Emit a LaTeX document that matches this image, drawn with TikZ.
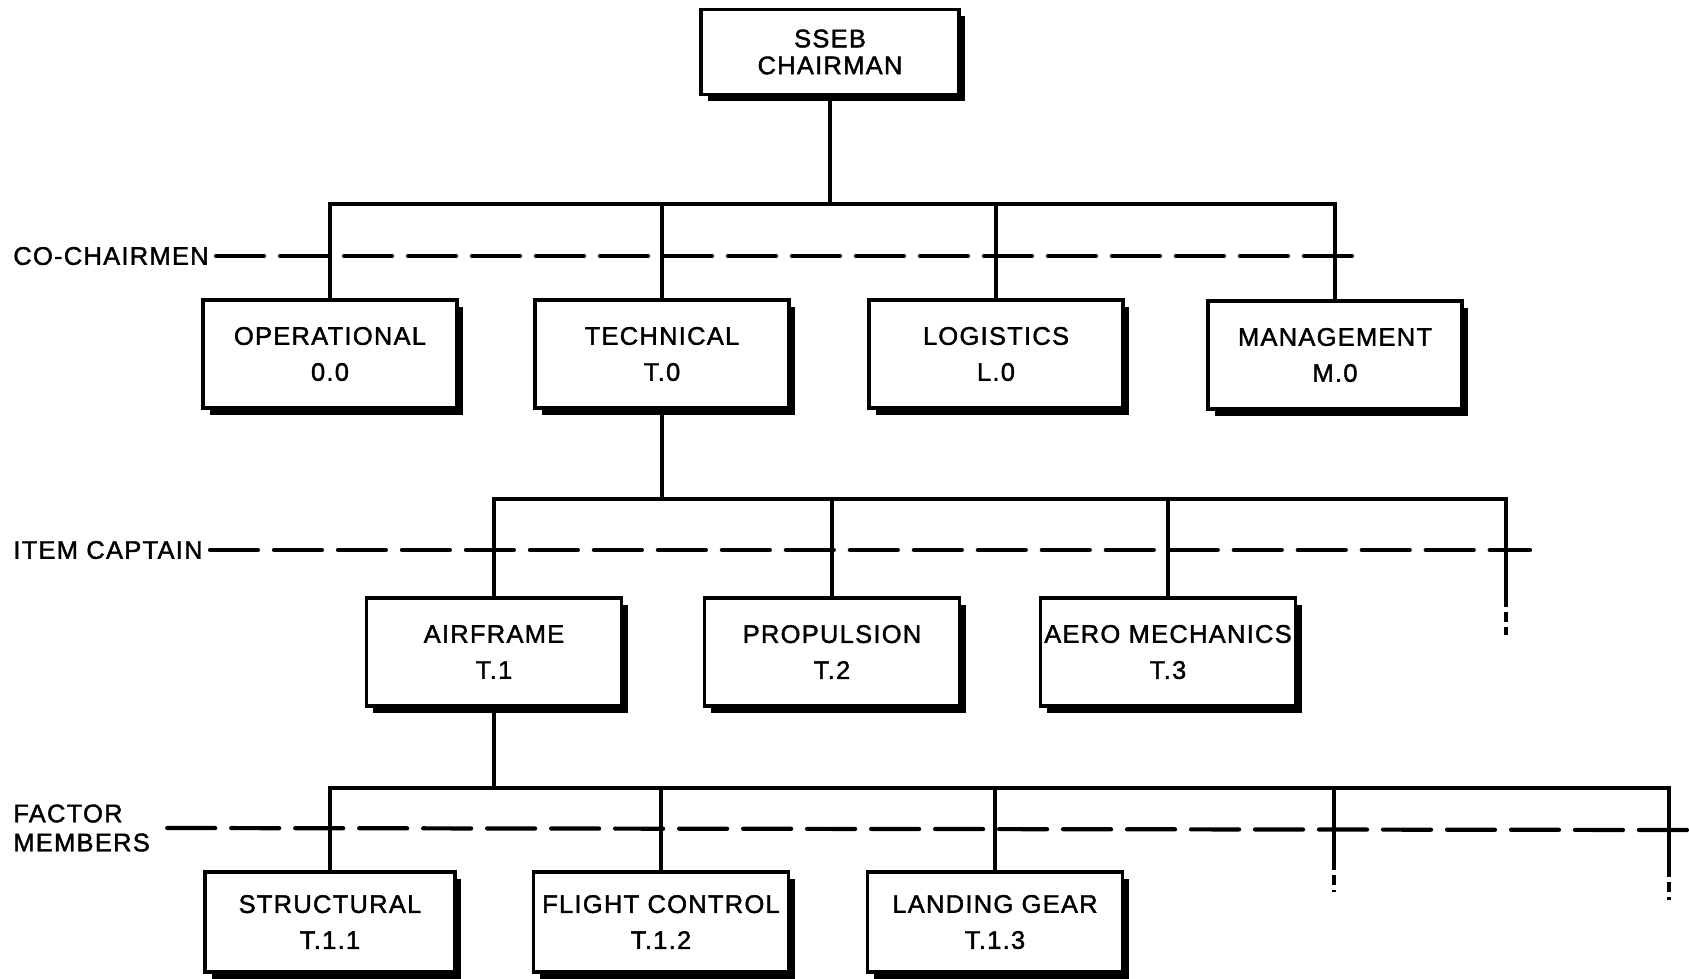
\documentclass[tikz,border=0pt]{standalone}
\usepackage{fontspec}
\setmainfont{Liberation Sans}[FakeBold=1.6,AutoFakeBold=1.6,LetterSpace=5]
\usetikzlibrary{shadows}

\tikzset{
box/.style={draw,fill=white,line width=2pt,align=center,inner sep=2pt,
 minimum width=5.08cm,minimum height=2.16cm,font=\bfseries\fontsize{14.5}{20.5}\selectfont,
 drop shadow={shadow xshift=0.13cm,shadow yshift=-0.13cm,opacity=1,fill=black}},
lbl/.style={inner sep=4pt,align=left,font=\bfseries\fontsize{14.5}{16.5}\selectfont},
conn/.style={line width=2pt},
dline/.style={line width=2.4pt,dash pattern=on 0.96cm off 0.32cm,line cap=round},
stubdash/.style={line width=2pt,dash pattern=on 0.2cm off 0.1cm}
}

\begin{document}
\begin{tikzpicture}[x=0.02cm,y=-0.02cm]
\useasboundingbox(0,0)rectangle(1689,978);
\node[box,minimum width=5.16cm,minimum height=1.7cm,font=\bfseries\fontsize{14.5}{15.3}\selectfont](chair)at(830,52){SSEB\\CHAIRMAN};
\node[box](oper)at(330,354){OPERATIONAL\\0.0};
\node[box](tech)at(662,354){TECHNICAL\\T.0};
\node[box](logi)at(996,354){LOGISTICS\\L.0};
\node[box](mgmt)at(1335,355){MANAGEMENT\\M.0};
\node[box,minimum width=5.1cm](air)at(494,652){AIRFRAME\\T.1};
\node[box,minimum width=5.1cm](prop)at(832,652){PROPULSION\\T.2};
\node[box,minimum width=5.1cm](aero)at(1168,652){AERO MECHANICS\\T.3};
\node[box,minimum width=5cm,minimum height=2cm](struc)at(330,922){STRUCTURAL\\T.1.1};
\node[box,minimum width=5.1cm,minimum height=2cm](flight)at(661,922){FLIGHT CONTROL\\T.1.2};
\node[box,minimum width=5.1cm,minimum height=2cm](gear)at(995,922){LANDING GEAR\\T.1.3};
\coordinate(cbus)at(830,204);
\coordinate(ibus)at(662,499);
\coordinate(istub)at(1506,597);
\coordinate(istub-end)at(1506,635);
\coordinate(fbus)at(494,788);
\coordinate(fstub1)at(1334,860);
\coordinate(fstub1-end)at(1334,892);
\coordinate(fstub2)at(1669,867);
\coordinate(fstub2-end)at(1669,900);
\draw[conn](chair)--(cbus);
\draw[conn](oper)|-(cbus)-|(mgmt);
\draw[conn](tech)--(tech|-cbus)
(logi)--(logi|-cbus);
\draw[conn](tech)--(ibus);
\draw[conn](air)|-(ibus)-|(istub);
\draw[conn](prop)--(prop|-ibus)
(aero)--(aero|-ibus);
\draw[stubdash](istub)--(istub-end);
\draw[conn](air)--(fbus);
\draw[conn](struc)|-(fbus)-|(fstub2);
\draw[conn](flight)--(flight|-fbus)
(gear)--(gear|-fbus)
(fstub1|-fbus)--(fstub1);
\draw[stubdash](fstub1)--(fstub1-end)
(fstub2)--(fstub2-end);
\node[lbl,anchor=west](colbl)at(6,256){CO-CHAIRMEN};
\node[lbl,anchor=west](itlbl)at(6,550){ITEM CAPTAIN};
\node[lbl,anchor=west](fmlbl)at(6,828){FACTOR\\MEMBERS};
\coordinate(co-e)at(1354,256);
\coordinate(it-e)at(1530,550);
\coordinate(fm-e)at(1689,830);
\draw[dline](colbl)--(co-e);
\draw[dline](itlbl)--(it-e);
\draw[dline]([xshift=0.2cm]fmlbl.east)--(fm-e);
\end{tikzpicture}
\end{document}
